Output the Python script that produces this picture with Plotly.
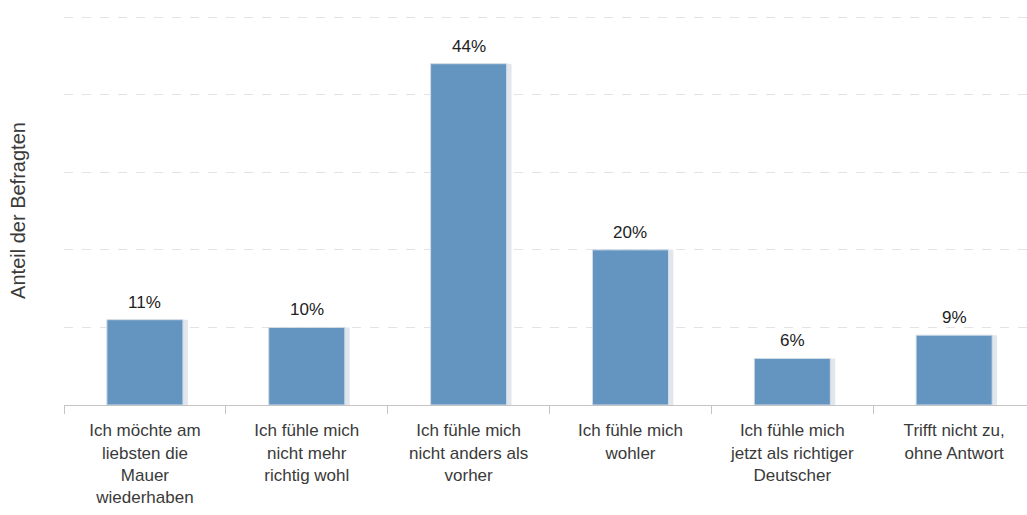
import plotly.graph_objects as go

# Survey answers and share of respondents (percent)
categories = [
    "Ich möchte am<br>liebsten die<br>Mauer<br>wiederhaben",
    "Ich fühle mich<br>nicht mehr<br>richtig wohl",
    "Ich fühle mich<br>nicht anders als<br>vorher",
    "Ich fühle mich<br>wohler",
    "Ich fühle mich<br>jetzt als richtiger<br>Deutscher",
    "Trifft nicht zu,<br>ohne Antwort",
]
shares = [11, 10, 44, 20, 6, 9]
value_labels = [f"{v}%" for v in shares]

FONT = "Liberation Sans, Arial, sans-serif"
TEXT_COLOR = "#3a3a3a"

fig = go.Figure()

# soft shadow behind each bar
fig.add_trace(go.Bar(
    x=categories, y=shares, width=0.5, offset=-0.235,
    marker=dict(color="#e1e6ed", line=dict(width=0)),
    hoverinfo="skip", showlegend=False,
))
fig.add_trace(go.Bar(
    x=categories, y=shares, width=0.47, offset=-0.235,
    marker=dict(color="#6495c1", line=dict(color="#d3dce6", width=1)),
    showlegend=False,
))

for c, v, t in zip(categories, shares, value_labels):
    fig.add_annotation(
        x=c, y=v, text=t, showarrow=False, yanchor="bottom", yshift=6,
        font=dict(family=FONT, size=17, color="#222222"),
    )

fig.update_layout(
    width=1027, height=515,
    margin=dict(l=64, r=0, t=16, b=110),
    paper_bgcolor="white", plot_bgcolor="white",
    barmode="overlay",
    font=dict(family=FONT, color=TEXT_COLOR),
)
fig.update_xaxes(
    range=[-0.5, 5.45],
    showline=True, linecolor="#c4c4c4", linewidth=1,
    ticks="outside", tickson="boundaries", ticklen=8, tickcolor="#c4c4c4",
    ticklabelstandoff=10,
    tickfont=dict(family=FONT, size=17, color=TEXT_COLOR),
    showgrid=False, tickangle=0,
)
fig.update_yaxes(
    range=[0, 50.15], tickvals=[10, 20, 30, 40, 50], showticklabels=False,
    showgrid=True, gridcolor="#e3e3e3", griddash="dash", gridwidth=1,
    zeroline=False,
    title=dict(text="Anteil der Befragten", standoff=32,
               font=dict(family=FONT, size=20, color=TEXT_COLOR)),
)

fig.write_html("out.html")
